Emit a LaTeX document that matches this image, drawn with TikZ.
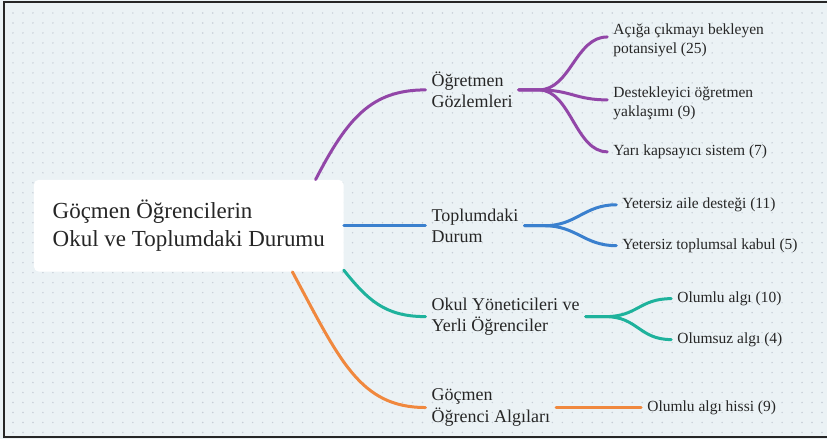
\documentclass[tikz,border=0pt]{standalone}
\usepackage{fontspec}
\setmainfont{Liberation Serif}
\usetikzlibrary{positioning}

\definecolor{bgblue}{RGB}{235,242,245}
\definecolor{dotgray}{RGB}{198,205,214}
\definecolor{textgray}{RGB}{38,38,38}
\definecolor{mpurple}{RGB}{146,70,168}
\definecolor{mblue}{RGB}{58,128,206}
\definecolor{mteal}{RGB}{30,178,156}
\definecolor{morange}{RGB}{240,136,62}

\tikzset{
  rootbox/.style={fill=white, rounded corners=5pt, minimum width=310pt,
    minimum height=92pt, align=left, text=textgray,
    font=\fontsize{23}{28}\selectfont},
  branch/.style={anchor=west, align=left, inner xsep=6pt, text=textgray,
    font=\fontsize{18}{21.5}\selectfont},
  leaf/.style={anchor=west, align=left, inner xsep=6pt, text=textgray,
    font=\fontsize{15.5}{19}\selectfont},
  link/.style={line width=3pt, line cap=round},
}

\begin{document}
\begin{tikzpicture}[x=1pt,y=-1pt]
      \fill[bgblue] (0,0) rectangle (828,440);
      \foreach \i in {0,...,81}
        \foreach \j in {0,...,42}
          \fill[dotgray] (13+10*\i,13+10*\j) circle (0.8pt);
      \draw[line width=2pt, draw=black!85] (828,2) -- (4,2) -- (4,438) -- (828,438);

      \node[rootbox] (root) at (189,226) {Göçmen Öğrencilerin\\Okul ve Toplumdaki Durumu};

      \node[branch] (og) at (426,90) {Öğretmen\\Gözlemleri};
      \node[branch] (td) at (426,226) {Toplumdaki\\Durum};
      \node[branch] (oy) at (426,317) {Okul Yöneticileri ve\\Yerli Öğrenciler};
      \node[branch] (ga) at (426,408) {Göçmen\\Öğrenci Algıları};

      \node[leaf] (og1) at (608,40) {Açığa çıkmayı bekleyen\\potansiyel (25)};
      \node[leaf] (og2) at (608,103) {Destekleyici öğretmen\\yaklaşımı (9)};
      \node[leaf] (og3) at (608,152) {Yarı kapsayıcı sistem (7)};
      \node[leaf] (td1) at (617,205) {Yetersiz aile desteği (11)};
      \node[leaf] (td2) at (617,246) {Yetersiz toplumsal kabul (5)};
      \node[leaf] (oy1) at (672,299) {Olumlu algı (10)};
      \node[leaf] (oy2) at (672,340) {Olumsuz algı (4)};
      \node[leaf] (ga1) at (642,408) {Olumlu algı hissi (9)};

      \draw[link, mpurple] (root.20) .. controls (348,118) and (372,90) .. (og.west);
      \draw[link, mblue] (root.east) -- (td.west);
      \draw[link, mteal] (root.-16) .. controls (368,300) and (385,317) .. (oy.west);
      \draw[link, morange] (root.-24) .. controls (340,360) and (360,408) .. (ga.west);

      \draw[link, mpurple] (og.east) -- ++(20,0) .. controls +(32,0) and +(-32,0) .. ([yshift=3pt]og1.west);
      \draw[link, mpurple] (og.east) -- ++(20,0) .. controls +(32,0) and +(-32,0) .. ([yshift=3pt]og2.west);
      \draw[link, mpurple] (og.east) -- ++(20,0) .. controls +(32,0) and +(-32,0) .. (og3.west);
      \draw[link, mblue] (td.east) -- ++(20,0) .. controls +(32,0) and +(-32,0) .. (td1.west);
      \draw[link, mblue] (td.east) -- ++(20,0) .. controls +(32,0) and +(-32,0) .. (td2.west);
      \draw[link, mteal] (oy.east) -- ++(20,0) .. controls +(32,0) and +(-32,0) .. (oy1.west);
      \draw[link, mteal] (oy.east) -- ++(20,0) .. controls +(32,0) and +(-32,0) .. (oy2.west);
      \draw[link, morange] (ga.east) -- (ga1.west);
\end{tikzpicture}
\end{document}
